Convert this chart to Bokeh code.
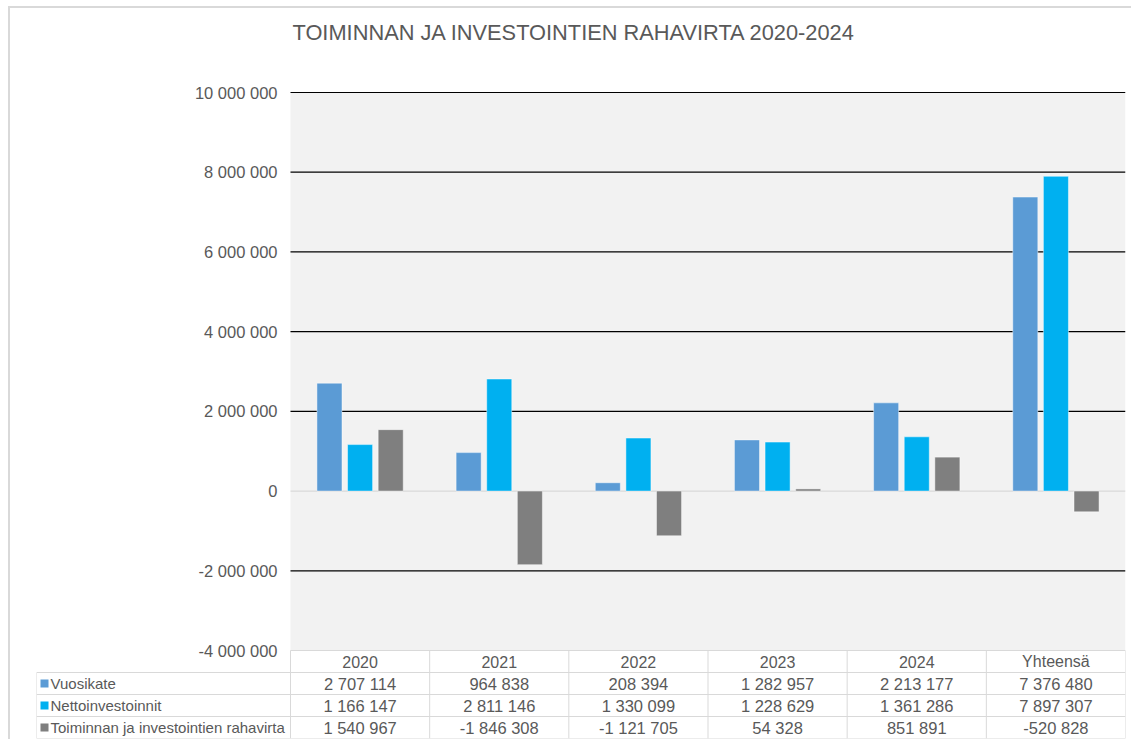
from bokeh.plotting import figure
from bokeh.models import Range1d, FixedTicker, ColumnDataSource
from bokeh.transform import dodge
from bokeh.embed import file_html
from bokeh.resources import INLINE
from bokeh.core.properties import value

# ---------------- data ----------------
categories = ["2020", "2021", "2022", "2023", "2024", "Yhteensä"]
series_names = ["Vuosikate", "Nettoinvestoinnit", "Toiminnan ja investointien rahavirta"]
vuosikate = [2707114, 964838, 208394, 1282957, 2213177, 7376480]
nettoinvestoinnit = [1166147, 2811146, 1330099, 1228629, 1361286, 7897307]
rahavirta = [1540967, -1846308, -1121705, 54328, 851891, -520828]
y_ticks = [-4000000, -2000000, 0, 2000000, 4000000, 6000000, 8000000, 10000000]
title_text = "TOIMINNAN JA INVESTOINTIEN RAHAVIRTA 2020-2024"

# ---------------- styles / layout ----------------
colors = ["#5B9BD5", "#00B0F0", "#7F7F7F"]
text_color = "#595959"
table_line = "#D9D9D9"
FONT = "Liberation Sans"
W, H = 1123, 733
B_LEFT, B_RIGHT, B_TOP, B_BOTTOM = 26, 8, 0, 3
TOP_PX = 84          # space above the plot area (title)
TITLE_PX = 24        # title centre, measured from top of frame
LABEL_COL_PX = 254
ROW_PX = 22
n_rows = 4
frame_w = W - B_LEFT - B_RIGHT
frame_h = H - B_TOP - B_BOTTOM
chart_px = frame_h - TOP_PX - n_rows * ROW_PX
col_px = (frame_w - LABEL_COL_PX) / len(categories)
label_units = LABEL_COL_PX / col_px
y_lo, y_hi = y_ticks[0], y_ticks[-1]
upp = (y_hi - y_lo) / chart_px

def fmt(v):
    return f"{v:,}".replace(",", " ")

n = len(categories)
xs = [i + 0.5 for i in range(n)]
src = ColumnDataSource(dict(x=xs, cat=categories, s0=vuosikate, s1=nettoinvestoinnit, s2=rahavirta))

p = figure(width=W, height=H, output_backend="svg", toolbar_location=None,
           x_range=Range1d(-label_units, n),
           y_range=Range1d(y_lo - n_rows * ROW_PX * upp, y_hi + TOP_PX * upp),
           min_border_left=B_LEFT, min_border_right=B_RIGHT,
           min_border_top=B_TOP, min_border_bottom=B_BOTTOM,
           styles={"margin-left": "8px", "margin-top": "6px",
                   "border-left": "2px solid #D9D9D9", "border-top": "2px solid #D9D9D9"})
p.extra_y_ranges = {
    "table": Range1d(start=n_rows, end=n_rows - frame_h / ROW_PX),
    "px": Range1d(start=frame_h, end=0),
}
p.title.visible = False
p.outline_line_color = None
p.background_fill_color = "white"
p.border_fill_color = "white"
p.xaxis.visible = False
p.xgrid.visible = False
p.ygrid.visible = False

# title
p.text(x=[0], y=[TITLE_PX], text=[title_text], x_offset=2, text_align="left",
       text_baseline="middle", text_font=value(FONT), text_font_size="21.8px",
       text_color=text_color, y_range_name="px")

# y axis positioned at the start of the category area
ax = p.yaxis[0]
ax.fixed_location = 0
ax.ticker = FixedTicker(ticks=y_ticks)
ax.major_label_overrides = {t: fmt(t) for t in y_ticks}
ax.axis_line_color = None
ax.major_tick_line_color = None
ax.minor_tick_line_color = None
ax.major_label_standoff = 7
ax.major_label_text_font = FONT
ax.major_label_text_font_size = "16.5px"
ax.major_label_text_color = text_color

# plot area background
p.quad(left=0, right=n, bottom=y_lo, top=y_hi, fill_color="#F2F2F2", line_color=None)

# gridlines
grid_vals = [t for t in y_ticks if t not in (0, y_lo)]
p.segment(x0=[0] * len(grid_vals), x1=[n] * len(grid_vals), y0=grid_vals, y1=grid_vals,
          line_color="#000000", line_width=1.2)
p.segment(x0=[0], x1=[n], y0=[0], y1=[0], line_color="#D9D9D9", line_width=1.2)

# bars
bar_w = 0.18
step = 0.22
for k, key in enumerate(["s0", "s1", "s2"]):
    p.vbar(x=dodge("x", (k - 1) * step), top=key, bottom=0, width=bar_w, source=src,
           fill_color=colors[k], line_color="white", line_alpha=0.45, line_width=1)

# data table lines
h_y = list(range(0, n_rows + 1))
h_x0 = [0] + [-label_units] * n_rows
p.segment(x0=h_x0, x1=[n] * len(h_y), y0=h_y, y1=h_y, line_color=table_line, line_width=1,
          y_range_name="table")
v_x = [-label_units] + list(range(0, n + 1))
v_y0 = [1] + [0] * (n + 1)
p.segment(x0=v_x, x1=v_x, y0=v_y0, y1=[n_rows] * len(v_x), line_color=table_line, line_width=1,
          y_range_name="table")

# header
p.text(x=xs, y=[0.5] * n, text=categories, text_align="center", text_baseline="middle",
       text_font=value(FONT), text_font_size="16px", text_color=text_color,
       y_range_name="table")

# rows
all_series = [vuosikate, nettoinvestoinnit, rahavirta]
for r, (name, vals) in enumerate(zip(series_names, all_series)):
    yr = r + 1.5
    p.text(x=xs, y=[yr] * n, text=[fmt(v) for v in vals], text_align="center",
           text_baseline="middle", text_font=value(FONT), text_font_size="16.5px",
           text_color=text_color, y_range_name="table")
    p.scatter(x=[-label_units + 8 / col_px], y=[yr], marker="square", size=8,
              fill_color=colors[r], line_color=None, y_range_name="table")
    p.text(x=[-label_units], y=[yr], text=[name], x_offset=14, text_align="left",
           text_baseline="middle", text_font=value(FONT), text_font_size="15px",
           text_color=text_color, y_range_name="table")

open("out.html", "w").write(file_html(p, INLINE))
